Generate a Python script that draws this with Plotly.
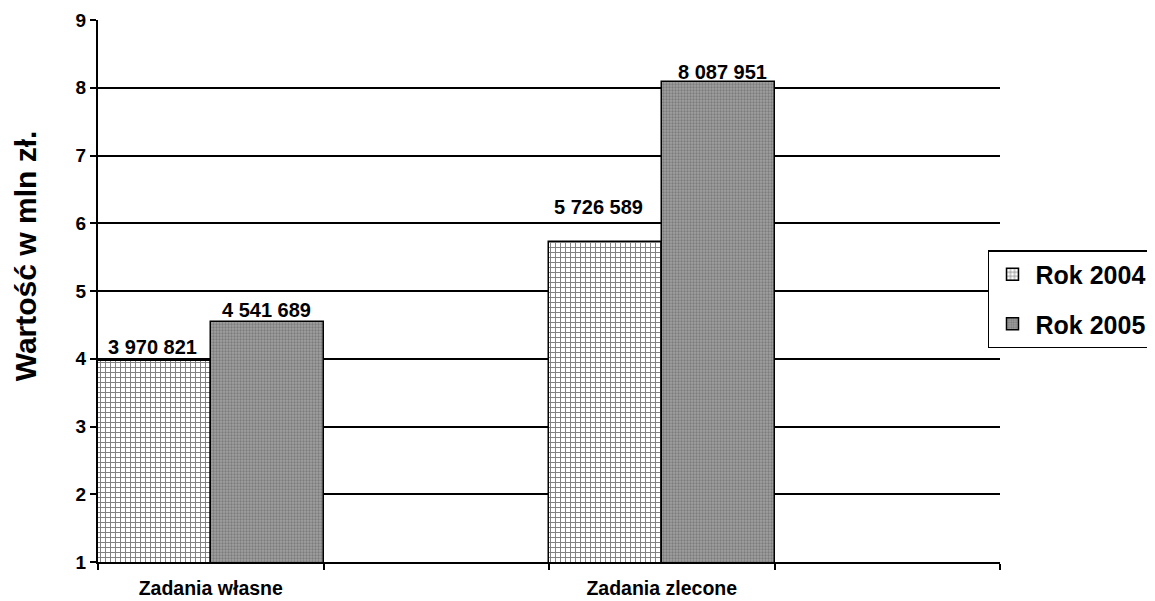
import plotly.graph_objects as go

categories = ["Zadania własne", " ", "Zadania zlecone", "  "]
series_names = ["Rok 2004", "Rok 2005"]
values_2004 = [3970821, None, 5726589, None]
values_2005 = [4541689, None, 8087951, None]
y_ticks = [1, 2, 3, 4, 5, 6, 7, 8, 9]
y_title = "Wartość w mln zł."

FONT = "Arial, Liberation Sans, sans-serif"


def fmt(v):
    return "" if v is None else f"{v:,}".replace(",", " ")


def mln(vals):
    return [None if v is None else v / 1e6 for v in vals]


fig = go.Figure()
fig.add_trace(go.Bar(
    x=categories, y=mln(values_2004), name=series_names[0],
    legendgroup="a",
    marker=dict(color="white", line=dict(color="black", width=1.5),
                pattern=dict(shape="+", fgcolor="black", bgcolor="white", size=5, solidity=0.35)),
))
fig.add_trace(go.Bar(
    x=categories, y=mln(values_2005), name=series_names[1],
    legendgroup="b",
    marker=dict(color="#8c8c8c", line=dict(color="black", width=1.5),
                pattern=dict(shape=".", fgcolor="#555555", bgcolor="#a0a0a0", size=3, solidity=0.45)),
))

# data labels (placement offsets in px)
label_dx = {(0, 0): -58, (0, 2): -63, (1, 0): 56, (1, 2): 61}
label_dy = {(0, 0): 14, (0, 2): 35, (1, 0): 12, (1, 2): 10}
for si, vals in enumerate([values_2004, values_2005]):
    for ci, v in enumerate(vals):
        if v is None:
            continue
        fig.add_annotation(
            x=categories[ci], y=v / 1e6, text=fmt(v), showarrow=False,
            xshift=label_dx[(si, ci)], yshift=label_dy[(si, ci)],
            font=dict(family=FONT, size=20, color="black", weight="bold"),
        )

# y-axis title
fig.add_annotation(
    xref="paper", yref="paper", x=-0.0795, y=0.5646, text=y_title, textangle=-90,
    showarrow=False, xanchor="center", yanchor="middle",
    font=dict(family=FONT, size=30, color="black", weight="bold"),
)

fig.update_layout(
    width=1147, height=593,
    margin=dict(l=90, r=155, t=12, b=39, autoexpand=False),
    paper_bgcolor="white", plot_bgcolor="white",
    barmode="group", bargap=0, bargroupgap=0,
    font=dict(family=FONT, color="black"),
    legend=dict(
        xref="container", yref="container",
        x=0.8544, y=0.5919, xanchor="left", yanchor="top",
        bgcolor="white", bordercolor="black", borderwidth=1.5,
        font=dict(family=FONT, size=25, color="black", weight="bold"),
        traceorder="grouped", tracegroupgap=14,
        itemwidth=36,
    ),
    showlegend=True,
)
fig.update_xaxes(
    type="category", categoryorder="array", categoryarray=categories,
    automargin=False,
    tickson="boundaries", ticks="outside", ticklen=6, tickwidth=2, tickcolor="black",
    ticklabelstandoff=8,
    showline=True, linecolor="black", linewidth=2, showgrid=False,
    tickfont=dict(family=FONT, size=19.5, color="black", weight="bold"),
)
fig.update_yaxes(
    range=[1, 9], tickvals=y_ticks, automargin=False,
    ticks="outside", ticklen=6, tickwidth=2, tickcolor="black",
    showline=True, linecolor="black", linewidth=2,
    showgrid=True, gridcolor="black", gridwidth=2, zeroline=False,
    tickfont=dict(family=FONT, size=19, color="black", weight="bold"),
)

fig.write_html("out.html")
